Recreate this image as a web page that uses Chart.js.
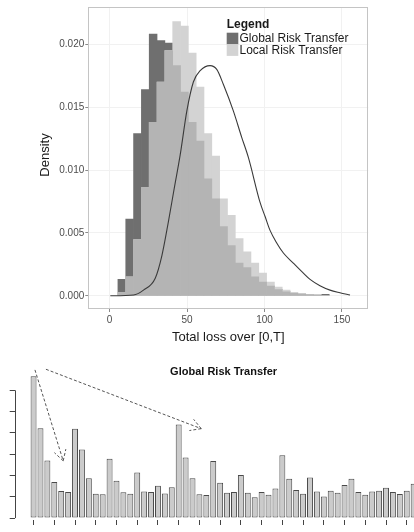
<!DOCTYPE html>
<html><head><meta charset="utf-8">
<script src="https://cdn.jsdelivr.net/npm/chart.js@4.4.1/dist/chart.umd.min.js"></script>
<style>
html,body{margin:0;padding:0;width:414px;height:532px;overflow:hidden;background:#fff;}
#top{position:absolute;left:0;top:0;width:414px;height:350px;}
#bot{position:absolute;left:-40px;top:350px;width:464px;height:200px;}
</style></head><body>
<div id="top"><canvas id="c1"></canvas></div>
<div id="bot"><canvas id="c2"></canvas></div>
<script>
const FONT = '"Liberation Sans", Arial, Helvetica, sans-serif';

// ---------- Top chart data ----------
const seriesNames = ['Global Risk Transfer', 'Local Risk Transfer'];
const binCenters = [7.94, 12.99, 18.04, 23.09, 28.14, 33.19, 38.24, 43.29, 48.34, 53.39, 58.44, 63.49, 68.54, 73.59, 78.64, 83.69, 88.74, 93.79, 98.84, 103.89, 108.94, 113.99, 119.04, 124.09, 129.14, 134.19, 139.24];
const globalDensity = [0.0013, 0.0061, 0.0129, 0.0164, 0.0208, 0.0203, 0.0201, 0.0183, 0.0162, 0.0138, 0.0123, 0.0093, 0.0077, 0.0055, 0.0040, 0.0026, 0.00225, 0.0015, 0.0011, 0.00077, 0.0005, 0.00032, 0.00019, 0.00013, 0.0001, 0.00005, 0.00012];
const localDensity = [0.00025, 0.0015, 0.00447, 0.0086, 0.0138, 0.0170, 0.0195, 0.0218, 0.02145, 0.0193, 0.0166, 0.0129, 0.0111, 0.0077, 0.0064, 0.00455, 0.0035, 0.0026, 0.0018, 0.0011, 0.0007, 0.00045, 0.00027, 0.00019, 0.00011, 0.0001, 0];
const curveLoss = [0.5, 15.5, 21.9, 29.5, 33.8, 38.0, 41.7, 45.6, 49.9, 54.1, 58.5, 64.9, 69.2, 73.5, 79.9, 85.3, 89.6, 97.2, 100.4, 103.6, 107.9, 112.2, 118.6, 125.1, 129.4, 135.8, 142.3, 148.7, 155.2];
const curveDensity = [0, 0.00006, 0.00045, 0.0014, 0.0032, 0.0059, 0.0085, 0.0112, 0.0147, 0.0170, 0.0179, 0.0183, 0.0180, 0.0168, 0.0147, 0.0126, 0.0110, 0.0074, 0.0063, 0.0052, 0.0042, 0.0034, 0.0026, 0.0018, 0.0013, 0.0008, 0.00045, 0.00024, 0.00006];
const lossTicks = [0, 50, 100, 150];
const densityTicks = [0, 0.005, 0.010, 0.015, 0.020];

// ---------- Bottom chart data ----------
const bottomTitle = 'Global Risk Transfer';
const nodeLabels = ['N1','N2','N3','N4','N5','N6','N7','N8','N9','N10','N11','N12','N13','N14','N15','N16','N17','N18','N19','N20','N21','N22','N23','N24','N25','N26','N27','N28','N29','N30','N31','N32','N33','N34','N35','N36','N37','N38','N39','N40','N41','N42','N43','N44','N45','N46','N47','N48','N49','N50','N51','N52','N53','N54','N55','N56'];
const transferValues = [6.66, 4.22, 2.71, 1.70, 1.27, 1.23, 4.19, 3.22, 1.87, 1.14, 1.12, 2.79, 1.75, 1.21, 1.14, 2.14, 1.25, 1.22, 1.52, 1.16, 1.45, 4.39, 2.85, 1.87, 1.12, 1.08, 2.68, 1.66, 1.19, 1.22, 2.02, 1.19, 0.98, 1.23, 1.10, 1.39, 2.95, 1.85, 1.32, 1.14, 1.91, 1.25, 1.01, 1.28, 1.19, 1.55, 1.85, 1.23, 1.10, 1.25, 1.28, 1.42, 1.23, 1.13, 1.28, 1.61];
const valueTicks = [0, 1, 2, 3, 4, 5, 6];
// dashed arrows, in data units (bar index, value)
const arrowAnnotations = [
  {from: [0.2, 6.96], to: [4.29, 2.69]},
  {from: [1.79, 6.99], to: [24.26, 4.20]}
];

// ---------- Top chart ----------
const colors = {global: '#6f6f6f', local: '#d3d3d3', overlap: '#b4b4b4'};
const overlapDensity = globalDensity.map((g, i) => Math.min(g, localDensity[i]));
const pts = (xs, ys) => xs.map((x, i) => ({x: x, y: ys[i]}));
const barOpts = {barPercentage: 1, categoryPercentage: 1, grouped: false, borderWidth: 0};

const topExtras = {
  id: 'topExtras',
  afterDraw(chart) {
    const {ctx, chartArea: a} = chart;
    ctx.save();
    ctx.strokeStyle = '#c4c4c4'; ctx.lineWidth = 1;
    ctx.strokeRect(Math.round(a.left) + 0.5, Math.round(a.top) + 0.5, Math.round(a.right - a.left) - 1, Math.round(a.bottom - a.top) - 1);
    ctx.fillStyle = '#1a1a1a';
    ctx.font = '13px ' + FONT; ctx.textAlign = 'center'; ctx.textBaseline = 'middle';
    ctx.fillText('Total loss over [0,T]', (a.left + a.right) / 2, a.bottom + 28);
    ctx.save(); ctx.translate(45, (a.top + a.bottom) / 2 - 3); ctx.rotate(-Math.PI / 2);
    ctx.fillText('Density', 0, 0); ctx.restore();
    const lx = a.left + 138.4;
    ctx.textAlign = 'left';
    ctx.font = 'bold 12px ' + FONT;
    ctx.fillText('Legend', lx, a.top + 18);
    ctx.font = '12px ' + FONT;
    [[seriesNames[0], colors.global], [seriesNames[1], colors.local]].forEach(([name, col], i) => {
      const ky = a.top + 25.7 + i * 11.6;
      ctx.fillStyle = col; ctx.fillRect(lx, ky, 11.6, 11.6);
      ctx.fillStyle = '#1a1a1a'; ctx.fillText(name, lx + 12.8, ky + 6);
    });
    ctx.restore();
  }
};

new Chart(document.getElementById('c1'), {
  type: 'bar',
  data: {datasets: [
    {type: 'line', label: 'density', data: pts(curveLoss, curveDensity), borderColor: '#3a3a3a', borderWidth: 1.1, pointRadius: 0, cubicInterpolationMode: 'monotone', fill: false, order: 0},
    Object.assign({label: 'overlap', data: pts(binCenters, overlapDensity), backgroundColor: colors.overlap, order: 1}, barOpts),
    Object.assign({label: seriesNames[1], data: pts(binCenters, localDensity), backgroundColor: colors.local, order: 2}, barOpts),
    Object.assign({label: seriesNames[0], data: pts(binCenters, globalDensity), backgroundColor: colors.global, order: 3}, barOpts)
  ]},
  options: {
    responsive: true, maintainAspectRatio: false, animation: false,
    layout: {padding: {left: 0, top: 6, right: 45.7, bottom: 0}},
    plugins: {legend: {display: false}, tooltip: {enabled: false}},
    scales: {
      x: {type: 'linear', offset: false, min: -13.7, max: 167,
        afterBuildTicks: s => { s.ticks = lossTicks.map(v => ({value: v})); },
        afterFit: s => { s.height = 41; },
        grid: {offset: false, color: '#f1f1f1', tickColor: '#8a8a8a', tickLength: 3},
        border: {display: false},
        ticks: {font: {family: FONT, size: 10}, color: '#4d4d4d', padding: 2, maxRotation: 0}},
      y: {type: 'linear', min: -0.00105, max: 0.02296,
        afterBuildTicks: s => { s.ticks = densityTicks.map(v => ({value: v})); },
        afterFit: s => { s.width = 88.3; },
        grid: {color: '#f1f1f1', tickColor: '#8a8a8a', tickLength: 3},
        border: {display: false},
        ticks: {font: {family: FONT, size: 10}, color: '#4d4d4d', padding: 1, callback: v => Number(v).toFixed(3)}}
    }
  },
  plugins: [topExtras]
});

// ---------- Bottom chart ----------
function dashedArrow(ctx, x0, y0, x1, y1) {
  const ang = Math.atan2(y1 - y0, x1 - x0), L = 12, h = Math.PI / 6;
  ctx.beginPath();
  ctx.moveTo(x0, y0); ctx.lineTo(x1, y1);
  ctx.moveTo(x1, y1); ctx.lineTo(x1 - L * Math.cos(ang - h), y1 - L * Math.sin(ang - h));
  ctx.moveTo(x1, y1); ctx.lineTo(x1 - L * Math.cos(ang + h), y1 - L * Math.sin(ang + h));
  ctx.stroke();
}
const botExtras = {
  id: 'botExtras',
  afterDraw(chart) {
    const {ctx, chartArea: a, scales: {x, y}} = chart;
    ctx.save();
    ctx.strokeStyle = '#444'; ctx.lineWidth = 1;
    const ax = Math.round(a.left) + 0.5;
    ctx.beginPath();
    ctx.moveTo(ax, y.getPixelForValue(valueTicks[0]));
    ctx.lineTo(ax, y.getPixelForValue(valueTicks[valueTicks.length - 1]));
    ctx.stroke();
    ctx.fillStyle = '#111'; ctx.font = 'bold 11px ' + FONT;
    ctx.textAlign = 'center'; ctx.textBaseline = 'middle';
    ctx.fillText(bottomTitle, x.getPixelForValue((transferValues.length - 1) / 2), a.top + 6);
    ctx.strokeStyle = '#555'; ctx.setLineDash([3, 2]);
    arrowAnnotations.forEach(ar => {
      dashedArrow(ctx, x.getPixelForValue(ar.from[0]), y.getPixelForValue(ar.from[1]),
                       x.getPixelForValue(ar.to[0]), y.getPixelForValue(ar.to[1]));
    });
    ctx.restore();
  }
};

new Chart(document.getElementById('c2'), {
  type: 'bar',
  data: {datasets: [{
    label: bottomTitle,
    data: transferValues.map((v, i) => ({x: i, y: v})),
    backgroundColor: '#cbcbcb', borderColor: '#4a4a4a', borderWidth: 1, borderSkipped: false,
    barPercentage: 0.86, categoryPercentage: 1
  }]},
  options: {
    responsive: true, maintainAspectRatio: false, animation: false,
    layout: {padding: {left: 0, top: 10, right: 2.6, bottom: 0}},
    plugins: {legend: {display: false}, tooltip: {enabled: false}},
    scales: {
      x: {type: 'linear', offset: false, min: -2.729, max: 56,
        afterBuildTicks: s => { s.ticks = nodeLabels.map((_, i) => ({value: i})); },
        afterFit: s => { s.height = 30; },
        grid: {offset: false, drawOnChartArea: false, tickLength: 5, tickColor: '#444'},
        border: {display: false},
        ticks: {autoSkip: true, autoSkipPadding: 4, maxRotation: 0, minRotation: 0, padding: 8,
          font: {family: FONT, size: 10}, color: '#555', callback: v => nodeLabels[v]}},
      y: {type: 'linear', min: -0.0904, max: 7.143,
        afterBuildTicks: s => { s.ticks = valueTicks.map(v => ({value: v})); },
        afterFit: s => { s.width = 54.7; },
        grid: {drawOnChartArea: false, tickLength: 5, tickColor: '#444'},
        border: {display: false},
        ticks: {padding: 10, font: {family: FONT, size: 10}, color: '#555'}}
    }
  },
  plugins: [botExtras]
});
</script>
</body></html>
